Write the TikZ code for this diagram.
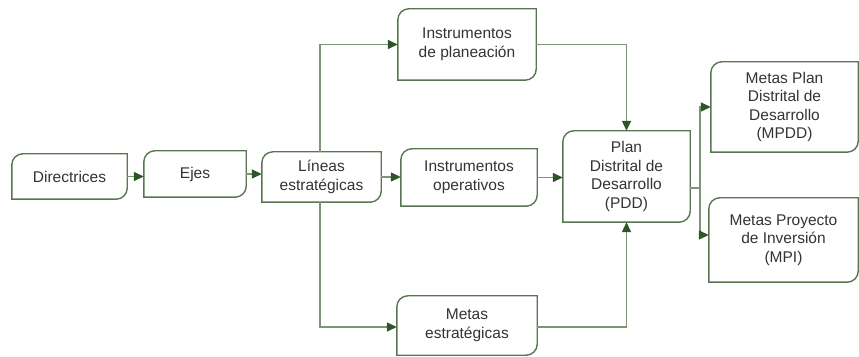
\documentclass[tikz,border=0pt]{standalone}
\usepackage{fontspec}
\setmainfont{Liberation Sans}
\usetikzlibrary{arrows.meta}
\definecolor{boxc}{RGB}{88,118,80}
\definecolor{linec}{RGB}{125,148,118}
\definecolor{tipc}{RGB}{45,85,40}
\tikzset{
  leaf/.style={inner sep=0pt, align=center, font=\fontsize{15.5}{18.5}\selectfont, text=black!80},
  conn/.style={draw=linec, line width=1.4pt},
  arr/.style={conn, -{Triangle[length=10pt,width=9pt,color=tipc]}},
}
\newcommand\leafbox[1]{\draw[draw=boxc, line width=1.4pt] (#1.south west) -- ([yshift=-11pt]#1.north west) arc[start angle=180,end angle=90,radius=11pt] -- (#1.north east) -- ([yshift=11pt]#1.south east) arc[start angle=0,end angle=-90,radius=11pt] -- cycle;}
\begin{document}
\begin{tikzpicture}[x=1pt,y=1pt]
\useasboundingbox (0,0) rectangle (859,356);
\node[leaf, minimum width=115pt, minimum height=45pt] (dir) at (69.5,179.5) {Directrices};
\node[leaf, minimum width=102pt, minimum height=46pt] (ejes) at (195,182) {Ejes};
\node[leaf, minimum width=119pt, minimum height=50pt] (lin) at (321.5,179) {Líneas\\estratégicas};
\node[leaf, minimum width=138pt, minimum height=71pt] (iplan) at (467,311.5) {Instrumentos\\de planeación};
\node[leaf, minimum width=136pt, minimum height=57pt] (ioper) at (469,178.5) {Instrumentos\\operativos};
\node[leaf, minimum width=140pt, minimum height=59pt] (mest) at (467,30.5) {Metas\\estratégicas};
\node[leaf, minimum width=127pt, minimum height=91pt] (pdd) at (626.5,179.5) {Plan\\Distrital de\\Desarrollo\\(PDD)};
\node[leaf, minimum width=147pt, minimum height=90pt] (mpdd) at (784.5,249) {Metas Plan\\Distrital de\\Desarrollo\\(MPDD)};
\node[leaf, minimum width=149pt, minimum height=84pt] (mpi) at (783.5,116) {Metas Proyecto\\de Inversión\\(MPI)};
\foreach \n in {dir,ejes,lin,iplan,ioper,mest,pdd,mpdd,mpi} {\leafbox{\n}}
\coordinate (j) at (700,168);
\draw[arr] (dir.east) -- (dir.east -| ejes.west);
\draw[arr] (ejes.east) -- (ejes.east -| lin.west);
\draw[arr] (lin.east) -- (lin.east -| ioper.west);
\draw[arr] (ioper.east) -- (ioper.east -| pdd.west);
\draw[arr] ([xshift=-1.5pt]lin.north) |- (iplan.west);
\draw[arr] ([xshift=-1.5pt]lin.south) |- ([yshift=-1.5pt]mest.west);
\draw[arr] (iplan.east) -| (pdd.north);
\draw[arr] ([yshift=-1.5pt]mest.east) -| (pdd.south);
\draw[conn] (pdd.east |- j) -- (j);
\draw[arr] (j) |- (mpdd.west);
\draw[arr] (j) |- ([yshift=5pt]mpi.west);
\end{tikzpicture}
\end{document}
